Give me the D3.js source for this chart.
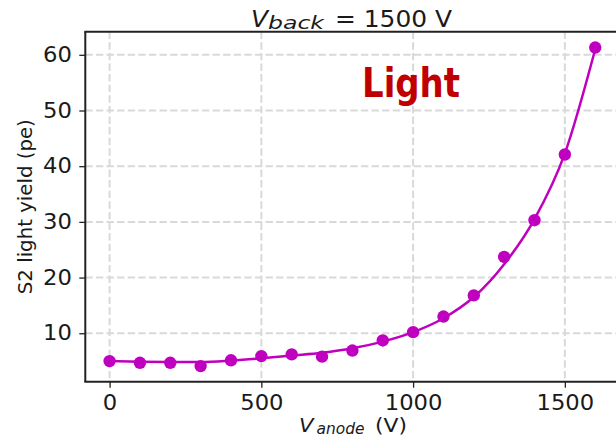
<!DOCTYPE html>
<html>
<head>
<meta charset="utf-8">
<script src="https://cdn.jsdelivr.net/npm/d3@7"></script>
<style>
  html, body { margin: 0; padding: 0; background: #fff; }
  svg { display: block; }
  text { font-family: "DejaVu Sans", sans-serif; fill: #1a1a1a; }
</style>
</head>
<body>
<svg id="chart" width="616" height="438"></svg>
<script>
// Measured S2 light yield vs anode voltage (back voltage 1500 V)
const anodeVoltage = [0, 100, 200, 300, 400, 500, 600, 700, 800, 900, 1000, 1100, 1200, 1300, 1400, 1500, 1600];
const lightYield   = [5.0, 4.7, 4.7, 4.1, 5.15, 5.9, 6.2, 5.8, 6.9, 8.7, 10.2, 13.0, 16.8, 23.7, 30.3, 42.1, 61.3];
// Smooth fit curve through the measurements
const fitVoltage   = [0, 100, 200, 300, 400, 500, 600, 700, 800, 900, 1000, 1100, 1200, 1300, 1400, 1500, 1600];
const fitYield     = [5.0, 4.9, 4.85, 4.85, 5.1, 5.5, 6.0, 6.5, 7.3, 8.5, 10.2, 12.7, 16.5, 22.4, 30.5, 42.3, 61.0];
const xTicks = [0, 500, 1000, 1500];
const yTicks = [10, 20, 30, 40, 50, 60];

const svg = d3.select("#chart");
const plotLeft = 85.3, plotRight = 619.5, plotTop = 31.7, plotBottom = 381.7;

const x = d3.scaleLinear().domain([-80, 1680]).range([plotLeft, plotRight]);
const y = d3.scaleLinear().domain([1.3, 64.15]).range([plotBottom, plotTop]);

const color = "#bf00bf";
const stretch = 1.08; // labels are set slightly wide

// dashed grid
const grid = svg.append("g");
grid.selectAll("line.vx").data(xTicks).join("line")
  .attr("x1", d => x(d)).attr("x2", d => x(d))
  .attr("y1", plotTop).attr("y2", plotBottom)
  .attr("stroke", "#d9d9d9").attr("stroke-width", 2).attr("stroke-dasharray", "7.4,3.2");
grid.selectAll("line.hy").data(yTicks).join("line")
  .attr("x1", plotLeft).attr("x2", plotRight)
  .attr("y1", d => y(d)).attr("y2", d => y(d))
  .attr("stroke", "#d9d9d9").attr("stroke-width", 2).attr("stroke-dasharray", "7.4,3.2");

// fit curve
const fitPts = fitVoltage.map((v, i) => [v, fitYield[i]]);
svg.append("path")
  .datum(fitPts)
  .attr("fill", "none")
  .attr("stroke", color)
  .attr("stroke-width", 2.5)
  .attr("d", d3.line().x(d => x(d[0])).y(d => y(d[1])).curve(d3.curveMonotoneX));

// data points
svg.append("g").selectAll("circle")
  .data(anodeVoltage.map((v, i) => [v, lightYield[i]]))
  .join("circle")
  .attr("cx", d => x(d[0])).attr("cy", d => y(d[1]))
  .attr("r", 6.2).attr("fill", color);

// axes
const xAxis = svg.append("g").attr("transform", `translate(0,${plotBottom})`)
  .call(d3.axisBottom(x).tickValues(xTicks).tickSize(6).tickPadding(7).tickFormat(d3.format("d")));
const yAxis = svg.append("g").attr("transform", `translate(${plotLeft},0)`)
  .call(d3.axisLeft(y).tickValues(yTicks).tickSize(6).tickPadding(6.5).tickFormat(d3.format("d")));
[xAxis, yAxis].forEach(a => {
  a.select(".domain").remove();
  a.selectAll(".tick line").attr("stroke", "#222").attr("stroke-width", 1.3);
  a.selectAll(".tick text")
    .attr("font-family", "DejaVu Sans").attr("font-size", 21).attr("fill", "#1a1a1a")
    .attr("transform", `scale(${stretch},1)`);
});

// spines
svg.append("line").attr("x1", plotLeft).attr("x2", plotLeft).attr("y1", plotTop).attr("y2", plotBottom)
  .attr("stroke", "#222").attr("stroke-width", 2);
svg.append("line").attr("x1", plotLeft - 1).attr("x2", 616).attr("y1", plotBottom).attr("y2", plotBottom)
  .attr("stroke", "#222").attr("stroke-width", 2);
svg.append("line").attr("x1", plotLeft - 1).attr("x2", 616).attr("y1", plotTop).attr("y2", plotTop)
  .attr("stroke", "#222").attr("stroke-width", 2);

// title: V_back = 1500 V
const title = svg.append("g");
title.append("text").attr("x", 251).attr("y", 26.7).attr("font-size", 23)
  .attr("font-style", "italic").attr("textLength", 17).attr("lengthAdjust", "spacingAndGlyphs").text("V");
title.append("text").attr("x", 268).attr("y", 28.5).attr("font-size", 17.5)
  .attr("font-style", "italic").attr("textLength", 56).attr("lengthAdjust", "spacingAndGlyphs").text("back");
title.append("text").attr("x", 335).attr("y", 26.7).attr("font-size", 23)
  .attr("textLength", 117).attr("lengthAdjust", "spacingAndGlyphs").text("= 1500 V");

// x label: V_anode (V)
const xl = svg.append("g");
xl.append("text").attr("x", 299).attr("y", 432).attr("font-size", 20)
  .attr("font-style", "italic").attr("textLength", 14.5).attr("lengthAdjust", "spacingAndGlyphs").text("V");
xl.append("text").attr("x", 316.5).attr("y", 434).attr("font-size", 15)
  .attr("font-style", "italic").attr("textLength", 48).attr("lengthAdjust", "spacingAndGlyphs").text("anode");
xl.append("text").attr("x", 375).attr("y", 432).attr("font-size", 20)
  .attr("textLength", 32).attr("lengthAdjust", "spacingAndGlyphs").text("(V)");

// y label
svg.append("text")
  .attr("transform", `translate(32,${(plotTop + plotBottom) / 2}) rotate(-90)`)
  .attr("text-anchor", "middle").attr("font-size", 20)
  .attr("textLength", 175).attr("lengthAdjust", "spacingAndGlyphs")
  .text("S2 light yield (pe)");

// annotation
svg.append("text")
  .attr("x", 362).attr("y", 97)
  .attr("font-family", "Lato, 'Open Sans', sans-serif")
  .attr("font-weight", 700).attr("font-size", 40)
  .attr("textLength", 98).attr("lengthAdjust", "spacingAndGlyphs")
  .style("fill", "#c00000")
  .text("Light");
</script>
</body>
</html>
